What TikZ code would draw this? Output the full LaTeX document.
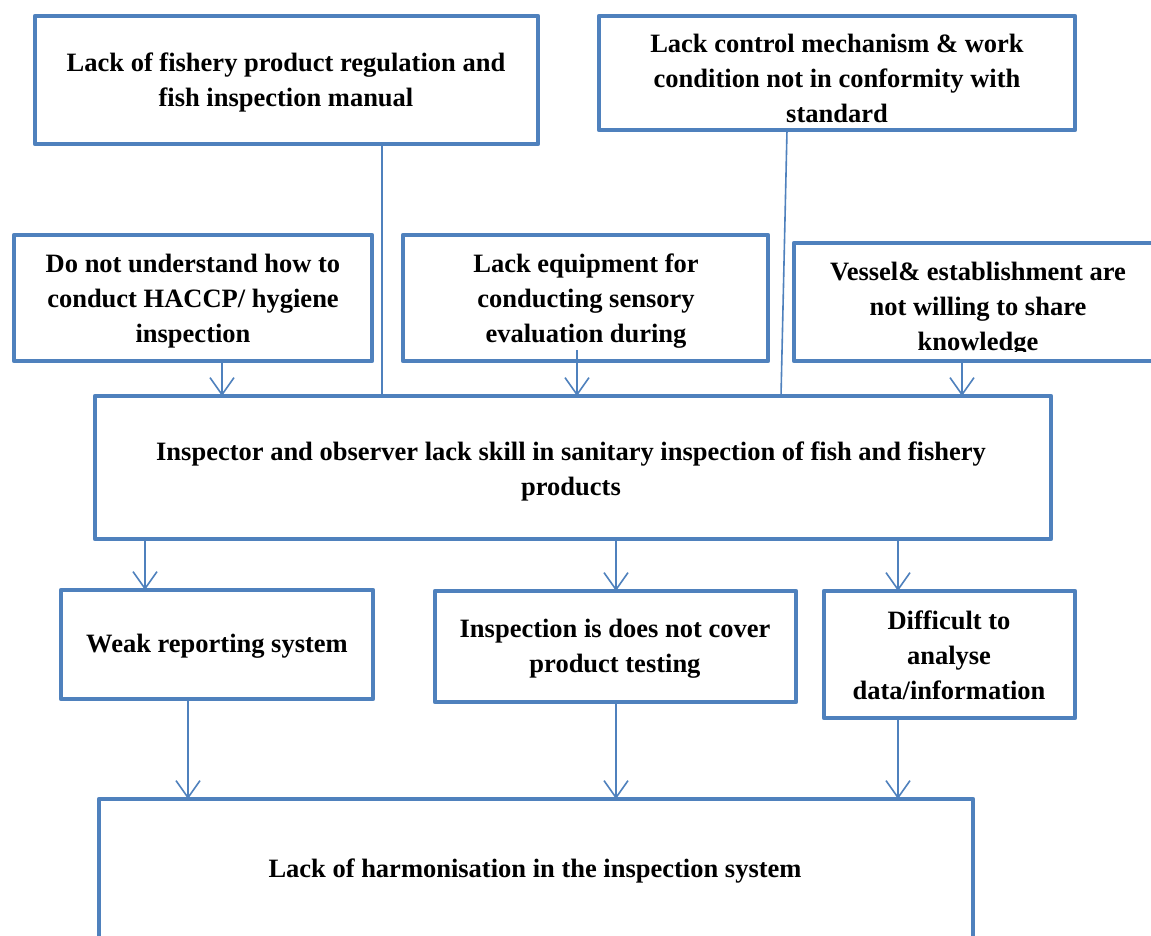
\documentclass[tikz,border=0pt]{standalone}
\usepackage{fontspec}
\setmainfont{Liberation Serif}
\usetikzlibrary{arrows.meta,calc}
\definecolor{boxblue}{HTML}{4F81BD}
\begin{document}
\begin{tikzpicture}[x=1pt,y=-1pt,
  box/.style={draw=boxblue, line width=4.8pt, line join=round,
    inner sep=0pt, outer sep=0pt, anchor=north west},
  txt/.style={align=center, inner sep=0pt,
    font=\fontsize{26.5}{35}\selectfont\bfseries},
  link/.style={draw=boxblue, line width=1.6pt},
  arr/.style={link, -{Straight Barb[length=17pt,width=24pt,line width=1.6pt]}}]
\useasboundingbox (0,0) rectangle (1151,935);
\fill[white] (0,0) rectangle (1151,935);
\clip (0,0) rectangle (1151,935);

% causes (top rows)
\node[box, minimum width=503pt, minimum height=128pt] (A) at (35,16) {};
\node[box, minimum width=476pt, minimum height=114pt] (B) at (599,16) {};
\node[box, minimum width=358pt, minimum height=126pt] (C) at (14,235) {};
\node[box, minimum width=365pt, minimum height=126pt] (D) at (403,235) {};
\node[box, minimum width=380pt, minimum height=118pt] (E) at (794,243) {};
% core problem
\node[box, minimum width=956pt, minimum height=143pt] (F) at (95,396) {};
% effects
\node[box, minimum width=312pt, minimum height=109pt] (G) at (61,590) {};
\node[box, minimum width=361pt, minimum height=111pt] (H) at (435,591) {};
\node[box, minimum width=251pt, minimum height=127pt] (I) at (824,591) {};
\node[box, minimum width=874pt, minimum height=170pt] (J) at (99,799) {};

% texts
\node[txt] (tA) at (286,82) {Lack of fishery product regulation and\\fish inspection manual};
\node[txt] (tB) at (837,78) {Lack control mechanism \& work\\condition not in conformity with\\standard};
\node[txt] (tC) at (193,301) {Do not understand how to\\conduct HACCP/ hygiene\\inspection};
\node[txt] (tD) at (586,301) {Lack equipment for\\conducting sensory\\evaluation during};
\begin{scope}
  \clip (794,243) rectangle (1151,351);
  \node[txt] (tE) at (978,309) {Vessel\& establishment are\\not willing to share\\knowledge};
\end{scope}
\node[txt] (tF) at (571,471) {Inspector and observer lack skill in sanitary inspection of fish and fishery\\products};
\node[txt] (tG) at (217,646) {Weak reporting system};
\node[txt] (tH) at (615,649) {Inspection is does not cover\\product testing};
\node[txt] (tI) at (949,655) {Difficult to\\analyse\\data/information};
\node[txt] (tJ) at (535,871) {Lack of harmonisation in the inspection system};

% connectors into the core problem
\draw[link] (382,0 |- A.south) -- (382,0 |- F.north);
\draw[link] (787,0 |- B.south) -- (781,0 |- F.north);
\draw[arr] (222,0 |- C.south) -- (222,0 |- F.north);
\draw[arr] ($(577,0 |- D.south)+(0,-11)$) -- (577,0 |- F.north);
\draw[arr] (962,0 |- E.south) -- (962,0 |- F.north);

% core problem to effects
\draw[arr] (145,0 |- F.south) -- (145,0 |- G.north);
\draw[arr] (616,0 |- F.south) -- (616,0 |- H.north);
\draw[arr] (898,0 |- F.south) -- (898,0 |- I.north);

% effects to overall problem
\draw[arr] (188,0 |- G.south) -- (188,0 |- J.north);
\draw[arr] (616,0 |- H.south) -- (616,0 |- J.north);
\draw[arr] (898,0 |- I.south) -- (898,0 |- J.north);
\end{tikzpicture}
\end{document}
